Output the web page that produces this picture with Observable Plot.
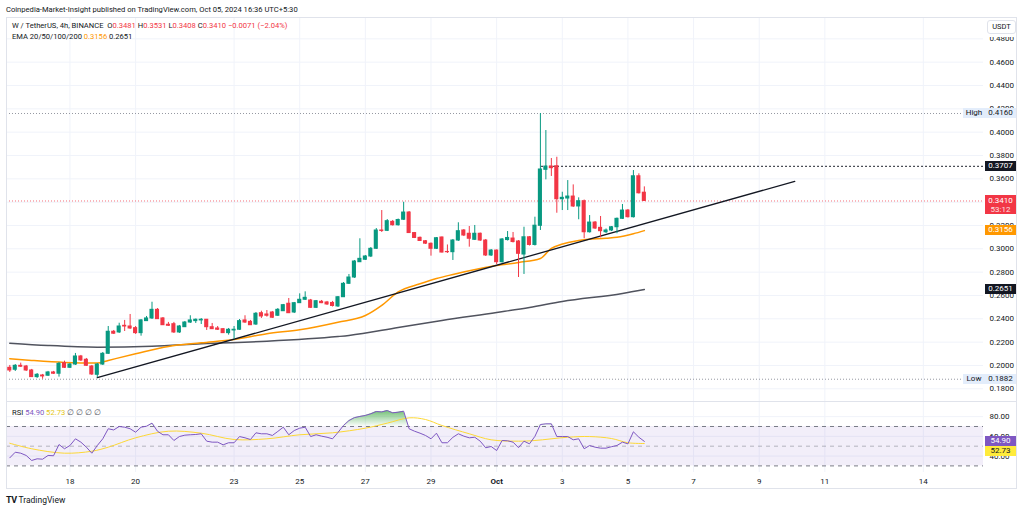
<!DOCTYPE html>
<html><head><meta charset="utf-8">
<script src="https://cdn.jsdelivr.net/npm/d3@7"></script>
<script src="https://cdn.jsdelivr.net/npm/@observablehq/plot@0.6"></script>
<style>
body{margin:0;background:#fff;}
#root{position:relative;width:1024px;height:511px;overflow:hidden;font-family:Roboto,"Noto Sans",sans-serif;color:#131722;background:#fff;}
.t{position:absolute;white-space:pre;font-size:7.6px;line-height:10px;}
.lbl{position:absolute;font-size:8px;line-height:10px;white-space:nowrap;text-align:center;box-sizing:border-box;}
svg{position:absolute;left:0;overflow:visible;}
</style></head><body><div id="root"></div>
<script>
// ---------- DATA ----------
const candleStart = "2024-09-16T04:00:00Z";
const candleHours = 4;
const opens = [0.1980,0.1963,0.1997,0.1991,0.1957,0.1900,0.1914,0.1912,0.1940,0.1929,
0.2020,0.1980,0.2008,0.2077,0.2049,0.1991,0.1920,0.2008,0.2100,0.2289,
0.2283,0.2340,0.2334,0.2320,0.2277,0.2380,0.2403,0.2477,0.2403,0.2349,
0.2354,0.2283,0.2328,0.2368,0.2380,0.2386,0.2392,0.2328,0.2317,0.2311,
0.2277,0.2300,0.2306,0.2386,0.2374,0.2351,0.2448,0.2437,0.2454,0.2426,
0.2465,0.2529,0.2454,0.2534,0.2563,0.2557,0.2494,0.2546,0.2540,0.2536,
0.2506,0.2585,0.2700,0.2754,0.2885,0.2906,0.2934,0.3000,0.3157,0.3154,
0.3231,0.3202,0.3249,0.3311,0.3135,0.3094,0.3065,0.3043,0.3000,0.3097,
0.2973,0.2971,0.3071,0.3157,0.3129,0.3077,0.3129,0.3071,0.2943,0.2985,
0.2885,0.3075,0.3088,0.3063,0.2951,0.3099,0.3033,0.3197,0.3677,0.3705,
0.3708,0.3425,0.3431,0.3448,0.3363,0.3408,0.3142,0.3225,0.3180,0.3142,
0.3157,0.3185,0.3257,0.3328,0.3271,0.3622,0.3481];
const highs = [0.2000,0.2008,0.2020,0.2000,0.1966,0.1931,0.1923,0.1949,0.1949,0.2026,
0.2037,0.2017,0.2103,0.2086,0.2060,0.2000,0.2017,0.2111,0.2334,0.2300,
0.2362,0.2386,0.2437,0.2334,0.2394,0.2420,0.2542,0.2488,0.2411,0.2369,
0.2369,0.2343,0.2377,0.2426,0.2398,0.2402,0.2394,0.2360,0.2334,0.2317,
0.2317,0.2334,0.2394,0.2426,0.2386,0.2454,0.2465,0.2471,0.2463,0.2488,
0.2523,0.2574,0.2540,0.2614,0.2631,0.2566,0.2557,0.2557,0.2549,0.2549,
0.2591,0.2711,0.2780,0.2900,0.3086,0.2943,0.3011,0.3174,0.3328,0.3251,
0.3243,0.3255,0.3399,0.3320,0.3140,0.3101,0.3071,0.3050,0.3097,0.3101,
0.3033,0.3080,0.3223,0.3165,0.3191,0.3200,0.3135,0.3080,0.2994,0.2990,
0.3088,0.3148,0.3140,0.3071,0.3185,0.3105,0.3271,0.4160,0.4014,0.3774,
0.3785,0.3485,0.3585,0.3548,0.3437,0.3418,0.3285,0.3234,0.3277,0.3170,
0.3191,0.3264,0.3380,0.3337,0.3671,0.3643,0.3531];
const lows = [0.1940,0.1948,0.1983,0.1948,0.1897,0.1889,0.1882,0.1906,0.1923,0.1900,
0.1974,0.1974,0.2000,0.2034,0.1991,0.1914,0.1895,0.2000,0.2094,0.2266,
0.2274,0.2291,0.2308,0.2266,0.2251,0.2377,0.2394,0.2394,0.2343,0.2334,
0.2274,0.2274,0.2326,0.2360,0.2360,0.2351,0.2300,0.2308,0.2300,0.2274,
0.2260,0.2225,0.2300,0.2360,0.2343,0.2343,0.2403,0.2414,0.2403,0.2420,
0.2463,0.2445,0.2445,0.2531,0.2557,0.2488,0.2488,0.2530,0.2514,0.2501,
0.2497,0.2583,0.2694,0.2746,0.2883,0.2900,0.2925,0.2994,0.3140,0.3148,
0.3195,0.3195,0.3243,0.3131,0.3088,0.3063,0.3037,0.2937,0.2994,0.2964,
0.2960,0.2900,0.3063,0.3105,0.3014,0.3071,0.3063,0.2934,0.2934,0.2865,
0.2878,0.3067,0.3050,0.2754,0.2780,0.3024,0.3024,0.3157,0.3591,0.3620,
0.3305,0.3328,0.3328,0.3354,0.3249,0.3086,0.3135,0.3165,0.3094,0.3131,
0.3148,0.3129,0.3251,0.3264,0.3264,0.3470,0.3408];
const closes = [0.1957,0.1997,0.1989,0.1957,0.1900,0.1920,0.1906,0.1940,0.1929,0.2014,
0.1980,0.2008,0.2077,0.2043,0.1997,0.1923,0.2008,0.2100,0.2289,0.2272,
0.2334,0.2334,0.2317,0.2277,0.2386,0.2403,0.2477,0.2397,0.2345,0.2340,
0.2283,0.2334,0.2368,0.2386,0.2392,0.2392,0.2328,0.2311,0.2306,0.2277,
0.2306,0.2306,0.2380,0.2368,0.2345,0.2443,0.2420,0.2426,0.2409,0.2477,
0.2517,0.2448,0.2534,0.2563,0.2580,0.2494,0.2551,0.2534,0.2523,0.2510,
0.2585,0.2700,0.2754,0.2891,0.2914,0.2934,0.3000,0.3157,0.3153,0.3237,
0.3202,0.3247,0.3311,0.3135,0.3093,0.3067,0.3044,0.3000,0.3091,0.2968,
0.2971,0.3071,0.3151,0.3114,0.3086,0.3129,0.3071,0.2943,0.2985,0.2885,
0.3080,0.3093,0.3058,0.2957,0.3099,0.3033,0.3198,0.3680,0.3705,0.3691,
0.3425,0.3437,0.3448,0.3363,0.3408,0.3142,0.3225,0.3174,0.3151,0.3157,
0.3185,0.3257,0.3328,0.3271,0.3622,0.3476,0.3410];

// EMA lines: [candle index, value]
const emaOrangeIdx = [0,4,10,16,18,23,29,35,41,47,53,60,65,68,71,75,78,81,86,89,93,97,99,104,109,111,114,116];
const emaOrangeVal = [0.2057,0.2043,0.2026,0.2020,0.2043,0.2100,0.2163,0.2194,0.2223,0.2272,0.2306,0.2371,0.2428,0.2515,0.2630,0.2700,0.2745,0.2780,0.2831,0.2857,0.2883,0.2917,0.3003,0.3071,0.3091,0.3099,0.3129,0.3156];
const emaDarkIdx = [0,7,16,26,35,47,60,62,71,79,89,95,101,112,116];
const emaDarkVal = [0.2191,0.2171,0.2157,0.2165,0.2186,0.2208,0.2248,0.2257,0.2325,0.2386,0.2454,0.2497,0.2548,0.2617,0.2651];

// drawn trend line and resistance
const trendDates = ["2024-09-18T20:00:00Z","2024-10-10T02:00:00Z"];
const trendPrices = [0.1895, 0.3578];
const resistance = 0.3707;
const resistanceFrom = "2024-10-02T09:00:00Z";
const highVal = 0.4160, lowVal = 0.1882, lastClose = 0.3410;
const lastChange = "−0.0071 (−2.04%)";
const emaOrangeLast = 0.3156, emaDarkLast = 0.2651;

// RSI (per candle) and its moving average [index, value]
const rsi = [38.2,43.9,42.9,40.6,35.5,37.2,36.8,40.6,40.3,51.7,
47.4,50.7,57.5,54.1,49.0,42.9,50.7,57.5,67.7,66.5,
70.0,69.3,67.7,64.2,69.3,70.3,73.4,65.2,61.6,61.6,
55.8,59.8,61.2,61.6,61.9,62.6,55.1,54.1,54.1,51.4,
53.5,53.5,59.8,58.5,56.8,63.6,62.6,62.6,60.9,65.0,
69.3,61.6,65.9,68.3,69.3,59.8,61.6,60.2,59.1,57.5,
64.0,71.0,76.0,79.0,80.2,81.2,82.9,85.2,84.8,86.2,
83.9,84.5,85.5,67.7,65.2,63.2,60.9,57.5,63.2,53.5,
53.5,59.0,62.6,60.2,58.5,59.1,55.1,48.4,49.7,45.6,
55.8,55.5,54.1,48.5,55.1,52.4,60.0,72.0,72.7,72.7,
59.8,59.8,59.8,56.5,57.5,47.4,50.7,49.0,48.0,48.0,
49.5,50.7,54.1,52.4,64.6,59.1,54.9];
const rsiMaIdx = [0,4,10,15,18,23,29,35,41,47,53,59,65,69,73,76,79,84,88,93,96,102,106,110,113,116];
const rsiMaVal = [53.0,47.4,42.9,44.9,49.0,58.5,65.2,63.2,56.8,57.5,61.6,63.6,68.3,73.4,78.8,77.1,71.0,62.6,56.5,55.1,55.8,59.1,59.8,57.8,53.5,52.73];
const rsiLast = 54.90, rsiMaLast = 52.73;

const priceTicks = [0.18,0.20,0.22,0.24,0.26,0.28,0.30,0.32,0.34,0.36,0.38,0.40,0.42,0.44,0.46,0.48];
const rsiTicks = [40,60,80];
const dateTickDays = ["2024-09-18","2024-09-20","2024-09-23","2024-09-25","2024-09-27","2024-09-29","2024-10-01","2024-10-03","2024-10-05","2024-10-07","2024-10-09","2024-10-11","2024-10-14"];
const dateTickLabels = ["18","20","23","25","27","29","Oct","3","5","7","9","11","14"];

// ---------- SETUP ----------
const RED = "#f23645", GREEN = "#089981", ORANGE = "#ff9800", PURPLE = "#7e57c2", YELLOW = "#fdd835", GRID = "#f0f3fa";
const HR = 3600e3;
const t0 = Date.parse(candleStart);
const atIdx = i => new Date(t0 + i * candleHours * HR);
const xDomain = [new Date("2024-09-16T01:36:00Z"), new Date("2024-10-15T20:00:00Z")];
const candles = opens.map((o, i) => ({t: atIdx(i), o, h: highs[i], l: lows[i], c: closes[i]}));
const colorOf = d => d.c >= d.o ? GREEN : RED;
const dateTicks = dateTickDays.map(s => new Date(s + "T00:00:00Z"));
const dateLabelMap = new Map(dateTicks.map((d, i) => [+d, dateTickLabels[i]]));
const emaOrange = emaOrangeIdx.map((i, k) => ({t: atIdx(i), v: emaOrangeVal[k]}));
const emaDark = emaDarkIdx.map((i, k) => ({t: atIdx(i), v: emaDarkVal[k]}));
const trend = trendDates.map((d, k) => ({t: new Date(d), v: trendPrices[k]}));
const rsiData = rsi.map((v, i) => ({t: atIdx(i), v}));
const rsiMa = rsiMaIdx.map((i, k) => ({t: atIdx(i), v: rsiMaVal[k]}));

const root = document.getElementById("root");
const font = {fontFamily: "Roboto, 'Noto Sans', sans-serif", fontSize: "8px", color: "#131722", background: "transparent", overflow: "visible"};

const MAIN_TOP = 17, RSI_TOP = 401;

const main = Plot.plot({
  width: 1020, height: 384, marginLeft: 6, marginRight: 37, marginTop: 0, marginBottom: 0,
  style: font,
  x: {type: "utc", domain: xDomain, axis: null},
  y: {domain: [0.16910, 0.49829], axis: "right", ticks: priceTicks, tickFormat: d => d.toFixed(4), tickSize: 0, tickPadding: 6, label: null},
  marks: [
    Plot.ruleY(priceTicks, {stroke: GRID}),
    Plot.ruleX(dateTicks, {stroke: GRID}),
    Plot.ruleY([highVal], {stroke: "#9598a1", strokeDasharray: "1,2"}),
    Plot.ruleY([lowVal], {stroke: "#9598a1", strokeDasharray: "1,2"}),
    Plot.ruleY([lastClose], {stroke: RED, strokeOpacity: 0.7, strokeDasharray: "1,2"}),
    Plot.ruleY([resistance], {x1: new Date(resistanceFrom), x2: xDomain[1], stroke: "#131722", strokeWidth: 1.4, strokeDasharray: "1.5,2.5"}),
    Plot.line(emaDark, {x: "t", y: "v", stroke: "#50535e", strokeWidth: 1.5, curve: "monotone-x"}),
    Plot.line(emaOrange, {x: "t", y: "v", stroke: ORANGE, strokeWidth: 1.5, curve: "monotone-x"}),
    Plot.line(trend, {x: "t", y: "v", stroke: "#131722", strokeWidth: 1.3}),
    Plot.ruleX(candles, {x: "t", y1: "l", y2: "h", stroke: colorOf}),
    Plot.rect(candles, {x1: d => new Date(+d.t - 1.5 * HR), x2: d => new Date(+d.t + 1.5 * HR), y1: "o", y2: "c", fill: colorOf, insetTop: -0.5, insetBottom: -0.5})
  ]
});
main.style.top = MAIN_TOP + "px";
root.appendChild(main);

const rsiChart = Plot.plot({
  width: 1020, height: 88, marginLeft: 6, marginRight: 37, marginTop: 0, marginBottom: 17,
  style: font,
  x: {type: "utc", domain: xDomain, ticks: dateTicks, tickFormat: d => dateLabelMap.get(+d) ?? "", tickSize: 0, tickPadding: 6, label: null},
  y: {domain: [23.30, 95.38], axis: "right", ticks: rsiTicks, tickFormat: d => d.toFixed(2), tickSize: 0, tickPadding: 6, label: null},
  marks: [
    Plot.ruleX(dateTicks, {stroke: GRID}),
    Plot.ruleY(rsiTicks, {stroke: GRID}),
    Plot.rect([0], {x1: xDomain[0], x2: xDomain[1], y1: 30, y2: 70, fill: PURPLE, fillOpacity: 0.1}),
    Plot.ruleY([70, 30], {stroke: "#787b86", strokeDasharray: "4,4"}),
    Plot.ruleY([50], {stroke: "#787b86", strokeOpacity: 0.5, strokeDasharray: "4,4"}),
    Plot.areaY(rsiData, {x: "t", y1: 70, y2: d => Math.max(d.v, 70), fill: "url(#rsiGreen)"}),
    Plot.line(rsiMa, {x: "t", y: "v", stroke: YELLOW, strokeWidth: 1, curve: "catmull-rom"}),
    Plot.line(rsiData, {x: "t", y: "v", stroke: PURPLE, strokeWidth: 1})
  ]
});
rsiChart.style.top = RSI_TOP + "px";
const defs = document.createElementNS("http://www.w3.org/2000/svg", "defs");
defs.innerHTML = '<linearGradient id="rsiGreen" x1="0" y1="0" x2="0" y2="1"><stop offset="0" stop-color="#4caf50" stop-opacity="0.8"/><stop offset="1" stop-color="#4caf50" stop-opacity="0.03"/></linearGradient>';
rsiChart.insertBefore(defs, rsiChart.firstChild);
rsiChart.querySelectorAll("text").forEach(t => { if (t.textContent === "Oct") t.setAttribute("font-weight", "bold"); });
root.appendChild(rsiChart);

// ---------- HTML overlays ----------
function div(cls, css, html) {
  const d = document.createElement("div");
  d.className = cls; d.style.cssText = css; d.innerHTML = html; root.appendChild(d); return d;
}
div("", "position:absolute;left:6px;top:17px;width:1011px;height:472px;border:1px solid #e0e3eb;box-sizing:border-box;pointer-events:none;", "");
div("", "position:absolute;left:6px;top:401px;width:1011px;height:1px;background:#e0e3eb;", "");

const f4 = v => v.toFixed(4);
const r = s => `<span style="color:${RED}">${s}</span>`;
div("t", "left:6px;top:5px;", "Coinpedia-Market-Insight published on TradingView.com, Oct 05, 2024 16:36 UTC+5:30");
div("t", "left:12px;top:21px;",
  `W / TetherUS, 4h, BINANCE  O${r(f4(opens[116]))} H${r(f4(highs[116]))} L${r(f4(lows[116]))} C${r(f4(closes[116]))} ${r(lastChange)}`);
div("t", "left:12px;top:32px;", `EMA 20/50/100/200 <span style="color:${ORANGE}">${f4(emaOrangeLast)}</span> ${f4(emaDarkLast)}`);
div("t", "left:12px;top:408px;", `RSI <span style="color:${PURPLE}">${rsiLast.toFixed(2)}</span> <span style="color:#e3c515">${rsiMaLast.toFixed(2)}</span> <span style="color:#50535e">∅ ∅ ∅ ∅</span>`);

div("", "position:absolute;left:984px;top:18px;width:32px;height:19px;background:#fff;", "");
div("lbl", "left:987px;top:20px;width:29px;height:14px;line-height:12px;border:1px solid #e0e3eb;border-radius:3px;font-size:7.5px;background:#fff;", "USDT");

const py = v => MAIN_TOP + main.scale("y").apply(v);
function priceBox(v, text, bg, fg, h = 10) {
  div("lbl", `left:985px;top:${py(v) - 5}px;width:31px;height:${h}px;background:${bg};color:${fg};`, text);
}
div("lbl", `left:963px;top:${py(highVal) - 5}px;width:22px;height:10px;background:#e3edfb;`, "High");
priceBox(highVal, f4(highVal), "#e3edfb", "#131722");
priceBox(resistance, f4(resistance), "#131722", "#fff");
div("lbl", `left:985px;top:${py(lastClose) - 5}px;width:31px;height:19px;background:${RED};color:#fff;line-height:9px;padding-top:1px;`, `${f4(lastClose)}<br><span style="color:#fde0e3">53:12</span>`);
priceBox(emaOrangeLast, f4(emaOrangeLast), ORANGE, "#fff");
priceBox(emaDarkLast, f4(emaDarkLast), "#131722", "#fff");
div("lbl", `left:963px;top:${py(lowVal) - 5}px;width:22px;height:10px;background:#e3edfb;`, "Low");
priceBox(lowVal, f4(lowVal), "#e3edfb", "#131722");

const ry = v => RSI_TOP + rsiChart.scale("y").apply(v);
const rTop = ry(rsiLast) - 5;
div("lbl", `left:985px;top:${rTop}px;width:31px;height:10px;background:${PURPLE};color:#fff;`, rsiLast.toFixed(2));
div("lbl", `left:985px;top:${rTop + 10}px;width:31px;height:10px;background:#ffeb3b;color:#131722;`, rsiMaLast.toFixed(2));

div("t", "left:6px;top:495px;font-size:8.5px;", `<b style="letter-spacing:-0.5px;font-size:9px">TV</b> TradingView`);
</script></body></html>
